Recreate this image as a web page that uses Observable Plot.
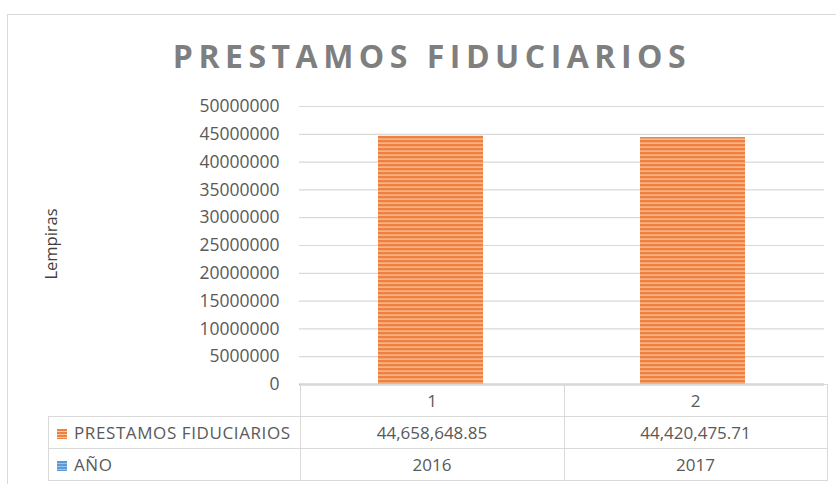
<!DOCTYPE html>
<html>
<head>
<meta charset="utf-8">
<script src="https://cdn.jsdelivr.net/npm/d3@7"></script>
<script src="https://cdn.jsdelivr.net/npm/@observablehq/plot@0.6"></script>
<style>
  html, body { margin: 0; padding: 0; background: #fff; }
  #wrap { position: relative; width: 836px; height: 484px; overflow: hidden; font-family: "Open Sans", sans-serif; }
  #frame { position: absolute; left: 7px; top: 14px; width: 840px; height: 480px; border-top: 1.5px solid #d9d9d9; border-left: 1.5px solid #d9d9d9; }
  #title { position: absolute; left: 6px; width: 852px; top: 34px; text-align: center; font-weight: 700; font-size: 32px; letter-spacing: 5.5px; color: #7f7f7f; white-space: nowrap; }
  #ylabel { position: absolute; left: 50px; top: 244px; transform: translate(-50%, -50%) rotate(-90deg); font-size: 16.5px; color: #404040; white-space: nowrap; }
  #plot { position: absolute; left: 0; top: 0; }
  table { position: absolute; left: 48px; top: 384px; border-collapse: collapse; font-size: 17px; color: #595959; }
  td { border: 1px solid #d9d9d9; height: 31px; padding: 0; text-align: center; line-height: 31px; }
  td.blank { border: none; border-right: 1px solid #d9d9d9; }
  td.lab { text-align: left; padding-left: 8px; white-space: nowrap; letter-spacing: 0.6px; }
  .key { display: inline-block; width: 10px; height: 10px; margin-right: 7px; vertical-align: 0px; }
</style>
</head>
<body>
<div id="wrap">
  <div id="frame"></div>
  <div id="title"></div>
  <div id="ylabel"></div>
  <div id="plot"></div>
  <table id="tbl"></table>
</div>
<script>
const titleText = "PRESTAMOS FIDUCIARIOS";
const yAxisLabel = "Lempiras";
const categories = ["1", "2"];
const prestamos = [44658648.85, 44420475.71];
const anios = [2016, 2017];
const seriesNames = ["PRESTAMOS FIDUCIARIOS", "AÑO"];
const seriesColors = ["#ED7D31", "#5B9BD5"];
const yTicks = [0, 5000000, 10000000, 15000000, 20000000, 25000000, 30000000, 35000000, 40000000, 45000000, 50000000];

document.getElementById("title").textContent = titleText;
document.getElementById("ylabel").textContent = yAxisLabel;

const data = categories.map((c, i) => ({cat: c, value: prestamos[i], year: anios[i]}));

const chart = Plot.plot({
  width: 836,
  height: 484,
  marginTop: 106,
  marginBottom: 100,
  marginLeft: 299,
  marginRight: 12,
  style: {fontFamily: "Open Sans, sans-serif", fontSize: "17.5px", color: "#595959", background: "transparent", overflow: "visible"},
  x: {domain: categories, paddingInner: 0.6, paddingOuter: 0.3, axis: null},
  y: {domain: [0, 50000000], ticks: yTicks, tickFormat: d => String(d), tickSize: 0, tickPadding: 20, label: null},
  marks: [
    Plot.ruleY(yTicks.filter(d => d > 0), {stroke: "#d9d9d9", strokeWidth: 1.2}),
    Plot.barY(data, {x: "cat", y: "value", fill: "url(#stripesOrange)"}),
    Plot.ruleY([0], {stroke: "#bfbfbf", strokeWidth: 2})
  ]
});

const ns = "http://www.w3.org/2000/svg";
function makePattern(svg, id, dark, light) {
  let defs = svg.querySelector("defs");
  if (!defs) { defs = document.createElementNS(ns, "defs"); svg.insertBefore(defs, svg.firstChild); }
  const p = document.createElementNS(ns, "pattern");
  p.setAttribute("id", id);
  p.setAttribute("patternUnits", "userSpaceOnUse");
  p.setAttribute("width", 8);
  p.setAttribute("height", 4);
  const r1 = document.createElementNS(ns, "rect");
  r1.setAttribute("width", 8); r1.setAttribute("height", 4); r1.setAttribute("fill", dark);
  const r2 = document.createElementNS(ns, "rect");
  r2.setAttribute("y", 2.5); r2.setAttribute("width", 8); r2.setAttribute("height", 1.2); r2.setAttribute("fill", light);
  p.appendChild(r1); p.appendChild(r2);
  defs.appendChild(p);
}
makePattern(chart, "stripesOrange", "#EE8040", "#F9C9A6");
document.getElementById("plot").appendChild(chart);

// data table below the plot
const fmt = d3.format(",.2f");
const tbl = document.getElementById("tbl");
const colW = [251, 263, 262];
let html = "<tr><td class='blank' style='width:" + colW[0] + "px'></td>" +
  categories.map((c, i) => "<td style='width:" + colW[i + 1] + "px'>" + c + "</td>").join("") + "</tr>";
html += "<tr><td class='lab'><span class='key' style='background:repeating-linear-gradient(#EE8040 0 2px,#F9C9A6 2px 3px)'></span>" + seriesNames[0] + "</td>" +
  prestamos.map(v => "<td>" + fmt(v) + "</td>").join("") + "</tr>";
html += "<tr><td class='lab'><span class='key' style='background:repeating-linear-gradient(#5B9BD5 0 2px,#9CC3E6 2px 3px)'></span>" + seriesNames[1] + "</td>" +
  anios.map(v => "<td>" + v + "</td>").join("") + "</tr>";
tbl.innerHTML = html;
</script>
</body>
</html>
